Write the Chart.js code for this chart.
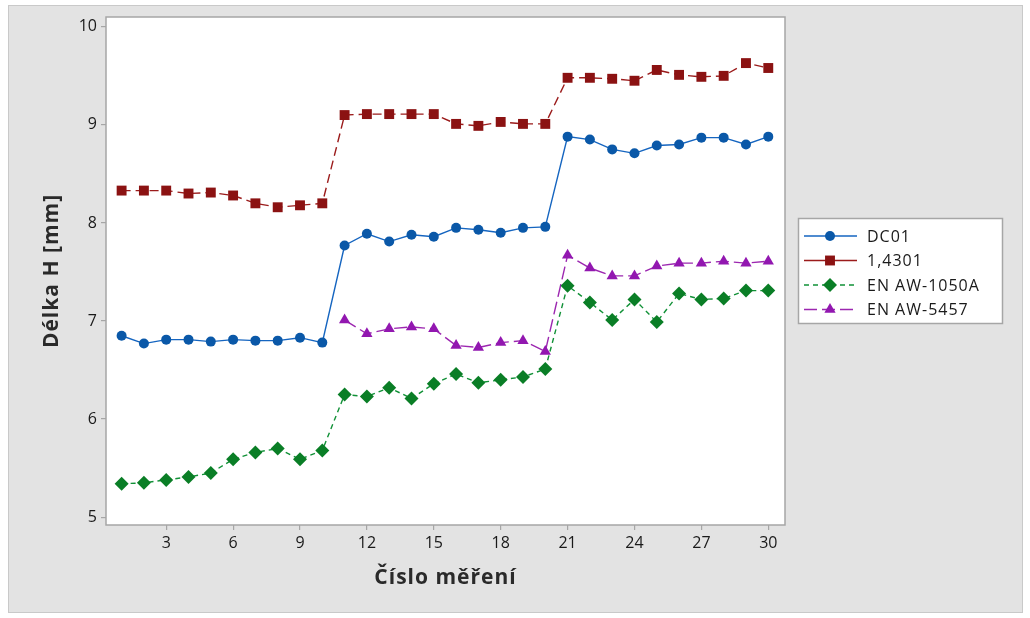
<!DOCTYPE html>
<html>
<head>
<meta charset="utf-8">
<script src="https://cdn.jsdelivr.net/npm/chart.js@4"></script>
<style>
html,body{margin:0;padding:0;background:#ffffff;}
#wrap{position:relative;width:1030px;height:618px;}
canvas{display:block;}
</style>
</head>
<body>
<div id="wrap"><canvas id="c" width="1030" height="618"></canvas></div>
<script>
const measurement = [1,2,3,4,5,6,7,8,9,10,11,12,13,14,15,16,17,18,19,20,21,22,23,24,25,26,27,28,29,30];
const dc01 = [6.85,6.77,6.81,6.81,6.79,6.81,6.80,6.80,6.83,6.78,
              7.77,7.89,7.81,7.88,7.86,7.95,7.93,7.90,7.95,7.96,
              8.88,8.85,8.75,8.71,8.79,8.80,8.87,8.87,8.80,8.88];
const s14301 = [8.33,8.33,8.33,8.30,8.31,8.28,8.20,8.16,8.18,8.20,
                9.10,9.11,9.11,9.11,9.11,9.01,8.99,9.03,9.01,9.01,
                9.48,9.48,9.47,9.45,9.56,9.51,9.49,9.50,9.63,9.58];
const aw1050a = [5.34,5.35,5.38,5.41,5.45,5.59,5.66,5.70,5.59,5.68,
                 6.25,6.23,6.32,6.21,6.36,6.46,6.37,6.40,6.43,6.51,
                 7.36,7.19,7.01,7.22,6.99,7.28,7.22,7.23,7.31,7.31];
const aw5457 = [null,null,null,null,null,null,null,null,null,null,
                7.01,6.87,6.92,6.94,6.92,6.75,6.73,6.78,6.80,6.69,
                7.67,7.54,7.46,7.46,7.56,7.59,7.59,7.61,7.59,7.61];
const xTicks = [3,6,9,12,15,18,21,24,27,30];
const yTicks = [5,6,7,8,9,10];
const seriesNames = ['DC01','1,4301','EN AW-1050A','EN AW-5457'];

const FONT = "'Open Sans', 'Noto Sans', sans-serif";

function pts(arr){ return measurement.map((m,i)=>({x:m,y:arr[i]})); }

const styles = [
  {color:'#1565c0', point:'#0a58a8', style:'circle', r:5, dash:[]},
  {color:'#9b1b1b', point:'#8b1212', style:'rect', r:7, dash:[9,5]},
  {color:'#119137', point:'#0a7e26', style:'rectRot', r:7, dash:[5,4]},
  {color:'#9c27b0', point:'#9217b0', style:'triangle', r:6.5, dash:[13,5]}
];
const seriesData = [dc01, s14301, aw1050a, aw5457];

const datasets = seriesData.map((arr,i)=>({
  label: seriesNames[i],
  data: pts(arr),
  borderColor: styles[i].color,
  backgroundColor: styles[i].point,
  pointBackgroundColor: styles[i].point,
  pointBorderColor: styles[i].point,
  pointBorderWidth: 0,
  pointStyle: styles[i].style,
  pointRadius: styles[i].r,
  borderWidth: 1.4,
  borderDash: styles[i].dash,
  spanGaps: false,
  tension: 0
}));

const framePlugin = {
  id:'frame',
  beforeDraw(chart){
    const ctx = chart.ctx, a = chart.chartArea;
    ctx.save();
    ctx.fillStyle = '#ffffff';
    ctx.fillRect(0,0,chart.width,chart.height);
    ctx.fillStyle = '#e3e3e3';
    ctx.fillRect(9,6,1013,606);
    ctx.strokeStyle = '#c9c9c9';
    ctx.lineWidth = 1;
    ctx.strokeRect(8.5,5.5,1014,607);
    ctx.fillStyle = '#ffffff';
    ctx.fillRect(a.left,a.top,a.right-a.left,a.bottom-a.top);
    ctx.restore();
  },
  afterDraw(chart){
    const ctx = chart.ctx, a = chart.chartArea;
    ctx.save();
    ctx.strokeStyle = '#a6a6a6';
    ctx.lineWidth = 1.5;
    ctx.strokeRect(a.left, a.top, a.right-a.left, a.bottom-a.top);
    ctx.fillStyle = '#2a2a2a';
    ctx.font = "bold 21px " + FONT;
    ctx.letterSpacing = '1px';
    ctx.textAlign = 'center';
    ctx.textBaseline = 'middle';
    ctx.fillText('Číslo měření', (a.left+a.right)/2, 578);
    ctx.translate(52, (a.top+a.bottom)/2);
    ctx.rotate(-Math.PI/2);
    ctx.fillText('Délka H [mm]', 0, 0);
    ctx.restore();

    ctx.save();
    const bx=798.5, by=218.5, bw=204, bh=105;
    ctx.fillStyle = '#ffffff';
    ctx.fillRect(bx,by,bw,bh);
    ctx.strokeStyle = '#a6a6a6';
    ctx.lineWidth = 1.5;
    ctx.strokeRect(bx,by,bw,bh);
    const rows = [236, 260.5, 285, 309.5];
    chart.data.datasets.forEach((ds,i)=>{
      const y = rows[i];
      ctx.save();
      ctx.strokeStyle = ds.borderColor;
      ctx.lineWidth = 1.4;
      ctx.setLineDash(i===1 ? [] : ds.borderDash);
      ctx.beginPath();
      ctx.moveTo(804,y); ctx.lineTo(857,y);
      ctx.stroke();
      ctx.restore();
      ctx.save();
      ctx.fillStyle = ds.pointBackgroundColor;
      ctx.strokeStyle = ds.pointBackgroundColor;
      Chart.helpers.drawPoint(ctx, {pointStyle: ds.pointStyle, radius: ds.pointRadius, borderWidth: 0, rotation:0}, 830, y);
      ctx.restore();
      ctx.save();
      ctx.fillStyle = '#1a1a1a';
      ctx.font = "16px " + FONT;
      ctx.letterSpacing = '1px';
      ctx.textAlign = 'left';
      ctx.textBaseline = 'middle';
      ctx.fillText(ds.label, 867, y+1);
      ctx.restore();
    });
    ctx.restore();
  }
};

new Chart(document.getElementById('c'), {
  type:'line',
  data:{datasets},
  options:{
    responsive:false,
    animation:false,
    devicePixelRatio:1,
    layout:{padding:{left:0, top:17, right:245, bottom:0}},
    plugins:{legend:{display:false}, tooltip:{enabled:false}},
    scales:{
      x:{
        type:'linear',
        min:0.3, max:30.75,
        afterBuildTicks(s){ s.ticks = xTicks.map(v=>({value:v})); },
        afterFit(s){ s.height = 93; },
        grid:{drawOnChartArea:false, drawTicks:true, tickLength:5, color:'#a6a6a6', lineWidth:1.2},
        border:{display:false},
        ticks:{color:'#1a1a1a', font:{family:FONT, size:16}, padding:4, maxRotation:0, autoSkip:false}
      },
      y:{
        type:'linear',
        min:4.92, max:10.1,
        afterBuildTicks(s){ s.ticks = yTicks.map(v=>({value:v})); },
        afterFit(s){ s.width = 106; },
        grid:{drawOnChartArea:false, drawTicks:true, tickLength:5, color:'#a6a6a6', lineWidth:1.2},
        border:{display:false},
        ticks:{color:'#1a1a1a', font:{family:FONT, size:16}, padding:4, autoSkip:false}
      }
    }
  },
  plugins:[framePlugin]
});
</script>
</body>
</html>
